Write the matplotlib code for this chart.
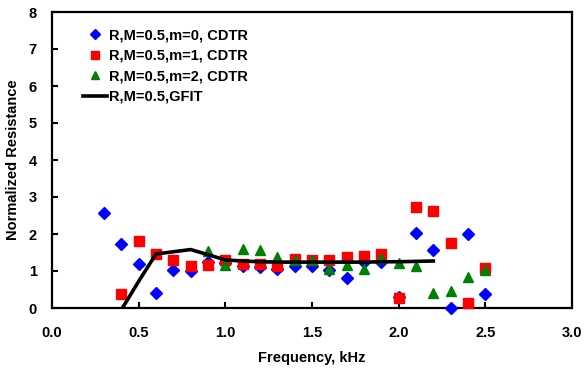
import numpy as np
import matplotlib.pyplot as plt

# frequency in kHz
freq = [0.3, 0.4, 0.5, 0.6, 0.7, 0.8, 0.9, 1.0, 1.1, 1.2, 1.3, 1.4,
        1.5, 1.6, 1.7, 1.8, 1.9, 2.0, 2.1, 2.2, 2.3, 2.4, 2.5]

r_m0 = [2.58, 1.74, 1.19, 0.40, 1.03, 1.00, 1.25, 1.22, 1.14, 1.10, 1.05, 1.14,
        1.14, 1.03, 0.80, 1.25, 1.23, 0.30, 2.02, 1.57, 0.01, 2.00, 0.37]

freq_m1 = freq[1:]
r_m1 = [0.38, 1.81, 1.45, 1.31, 1.14, 1.16, 1.31, 1.19, 1.19, 1.14, 1.32,
        1.30, 1.31, 1.37, 1.41, 1.46, 0.28, 2.74, 2.63, 1.75, 0.14, 1.07]

freq_m2 = freq[6:]
r_m2 = [1.55, 1.16, 1.60, 1.57, 1.39, 1.30, 1.31, 1.05, 1.16, 1.05, 1.36,
        1.21, 1.14, 0.41, 0.46, 0.83, 1.03]

freq_fit = [0.4, 0.5, 0.6, 0.7, 0.8, 0.9, 1.0, 1.1, 1.2, 1.3, 1.4, 1.5,
            1.6, 1.7, 1.8, 1.9, 2.0, 2.1, 2.2]
r_fit = [-0.05, 0.72, 1.46, 1.52, 1.58, 1.44, 1.30, 1.27, 1.25, 1.24, 1.24, 1.24,
         1.24, 1.24, 1.24, 1.25, 1.25, 1.26, 1.27]

plt.rcParams['font.family'] = 'Liberation Sans'
plt.rcParams['font.weight'] = 'bold'
fs = 10.5

fig = plt.figure(figsize=(5.86, 3.69), dpi=100)
ax = fig.add_axes([52 / 586, 1 - 308 / 369, 520 / 586, 296 / 369])

ax.plot(freq, r_m0, 'D', color='#0000ff', markersize=6.5, label='R,M=0.5,m=0, CDTR',
        clip_on=False, zorder=3)
ax.plot(freq_m1, r_m1, 's', color='#ff0000', markersize=7.5, label='R,M=0.5,m=1, CDTR',
        clip_on=False, zorder=3)
ax.plot(freq_m2, r_m2, '^', color='#008000', markersize=7.5, label='R,M=0.5,m=2, CDTR',
        clip_on=False, zorder=3)
ax.plot(freq_fit, r_fit, '-', color='black', linewidth=2.6, label='R,M=0.5,GFIT', zorder=4)

ax.set_xlim(0, 3)
ax.set_ylim(0, 8)
ax.set_xticks(np.arange(0, 3.01, 0.5))
ax.set_yticks(range(0, 9))
ax.set_xticklabels(['%.1f' % v for v in np.arange(0, 3.01, 0.5)])
ax.tick_params(axis='x', direction='in', length=4, width=1.5, labelsize=fs, pad=13)
ax.tick_params(axis='y', direction='in', length=4, width=1.5, labelsize=fs, pad=11)
for lab in ax.get_xticklabels() + ax.get_yticklabels():
    lab.set_fontweight('bold')
for s in ax.spines.values():
    s.set_linewidth(1.6)

ax.set_xlabel('Frequency, kHz', fontsize=fs, fontweight='bold', labelpad=8)
ax.set_ylabel('Normalized Resistance', fontsize=fs, fontweight='bold', labelpad=6)

leg = ax.legend(loc='upper left', bbox_to_anchor=(0.035, 0.99), frameon=False,
                fontsize=fs, handlelength=1.6, handletextpad=0.15, labelspacing=0.45,
                markerscale=0.8)
for t in leg.get_texts():
    t.set_fontweight('bold')

fig.savefig('out.png', dpi=100)
